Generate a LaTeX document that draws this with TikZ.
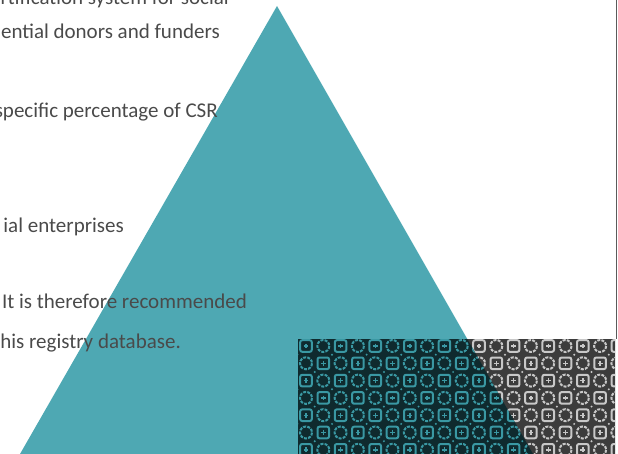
\documentclass[tikz,border=0pt]{standalone}
\usepackage{fontspec}
\setmainfont{Carlito}
\definecolor{pyramid}{HTML}{4EA8B3}
\definecolor{bodytext}{HTML}{4A4A4A}
\definecolor{rule}{HTML}{5A5A5A}
\definecolor{tilebg}{HTML}{3C3C3C}
\definecolor{tilefg}{HTML}{C8C8C8}
\definecolor{tealbg}{HTML}{0F2A2E}
\definecolor{tealfg}{HTML}{3A98A3}
\tikzset{
  bodyline/.style={font=\fontsize{21}{24}\selectfont, text=bodytext, anchor=base east, inner sep=0pt},
  tilestroke/.style={draw=#1, line width=2pt},
}
% tiled band: squares with a cross alternate with rings
\newcommand\tileband[2]{%
  \fill[#1] (298,339) rectangle (618,454);
  \foreach \i in {0,...,18}{
    \foreach \j in {0,...,6}{
      \pgfmathsetmacro\cx{306+17.3*\i}
      \pgfmathsetmacro\cy{346+17.3*\j}
      \pgfmathtruncatemacro\tileparity{mod(\i+\j,2)}
      \ifnum\tileparity=0
        \draw[tilestroke=#2, rounded corners=2pt] (\cx-5.8,\cy-5.8) rectangle (\cx+5.8,\cy+5.8);
        \draw[#2, line width=1.4pt] (\cx-2.4,\cy) -- (\cx+2.4,\cy) (\cx,\cy-2.4) -- (\cx,\cy+2.4);
      \else
        \draw[tilestroke=#2, dash pattern=on 3pt off 1.2pt] (\cx,\cy) circle (6);
        \fill[#2] (\cx-8.6,\cy-8.6) circle (1.1);
      \fi
    }
  }%
}
\begin{document}
\begin{tikzpicture}[x=1pt,y=-1pt]
\useasboundingbox (0,0) rectangle (618,454);
\begin{scope}
  \clip (0,0) rectangle (618,454);
  % pyramid
  \fill[pyramid] (20,454) -- (277,6) -- (533,454) -- cycle;
  % patterned band, plain part
  \begin{scope}
    \clip (298,339) rectangle (615,454);
    \tileband{tilebg}{tilefg}
  \end{scope}
  % patterned band, part under the pyramid
  \begin{scope}
    \clip (298,339) rectangle (615,454);
    \clip (20,454) -- (277,6) -- (533,454) -- cycle;
    \tileband{tealbg}{tealfg}
  \end{scope}
  % page edge rule
  \draw[rule, line width=1.8pt] (616.5,0) -- (616.5,339);
  % body text
  \node[bodyline] (l1) at (229,5) {rtification system for social};
  \node[bodyline] (l2) at (220,39) {ential donors and funders};
  \node[bodyline] (l3) at (218,118) {specific percentage of CSR};
  \node[bodyline] (l4) at (124,233) {ial enterprises};
  \node[bodyline] (l5) at (247,308) {It is therefore recommended};
  \node[bodyline] (l6) at (181,348) {his registry database.};
\end{scope}
\end{tikzpicture}
\end{document}
